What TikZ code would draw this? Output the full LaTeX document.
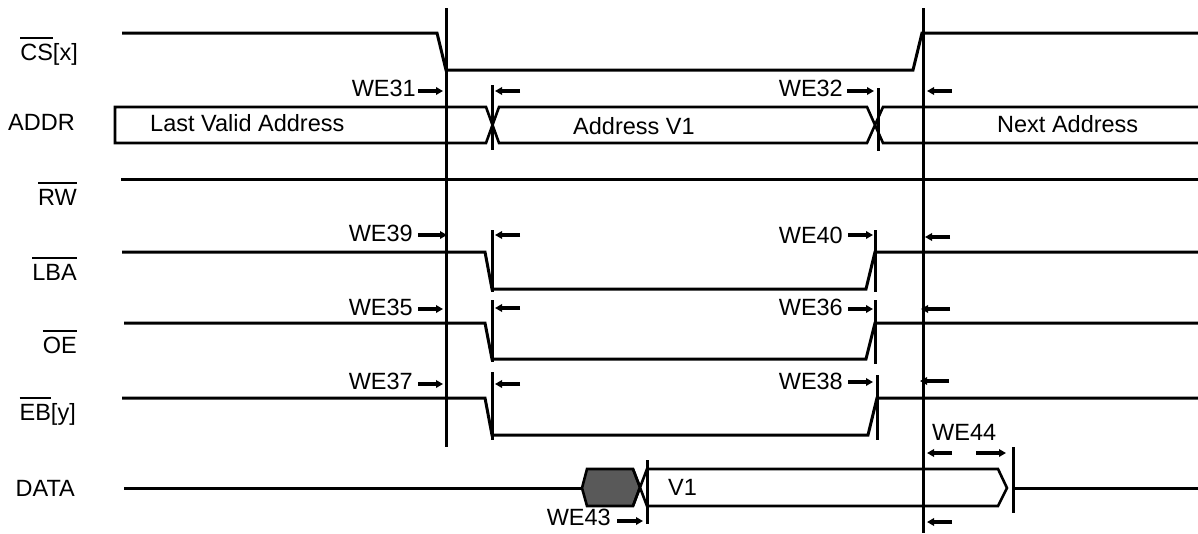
\documentclass[tikz,border=0pt]{standalone}
\usepackage{fontspec}
\setmainfont{Liberation Sans}
\usetikzlibrary{arrows.meta}
\newcommand\ovl[1]{\vbox{\hrule height 2pt\kern 5pt\hbox{#1}}}
\begin{document}
\begin{tikzpicture}[x=1pt,y=-1pt,
  sig/.style={line width=3pt, line join=miter},
  bus/.style={line width=2.6pt, line join=miter},
  guide/.style={line width=3pt},
  tick/.style={line width=3pt},
  arr/.style={line width=3.4pt, -{Triangle[length=7pt,width=7.5pt]}},
  lbl/.style={font=\fontsize{23.5}{27}\selectfont, inner sep=0pt},
]
\useasboundingbox (0,0) rectangle (1198,533);

% signal names
\node[lbl, anchor=base east] (ncs)   at (78,60)  {\ovl{CS}[x]};
\node[lbl, anchor=base east] (naddr) at (75,130) {ADDR};
\node[lbl, anchor=base east] (nrw)   at (77,205) {\ovl{RW}};
\node[lbl, anchor=base east] (nlba)  at (77,280) {\ovl{LBA}};
\node[lbl, anchor=base east] (noe)   at (77,353) {\ovl{OE}};
\node[lbl, anchor=base east] (neb)   at (76,420) {\ovl{EB}[y]};
\node[lbl, anchor=base east] (ndata) at (75,496) {DATA};

% guide lines
\draw[guide] (446,8) -- (446,447);
\draw[guide] (923,8) -- (923,533);

% CS
\draw[sig] (122,33) -- (437,33) -- (446,70) -- (913,70) -- (922,33) -- (1198,33);

% ADDR bus
\draw[bus] (1198,107) -- (883,107) -- (867,143) -- (499,143) -- (486,107) -- (115,107)
  -- (115,143) -- (486,143) -- (499,107) -- (867,107) -- (883,143) -- (1198,143);
\node[lbl, anchor=base west] (tlva) at (150,131) {Last Valid Address};
\node[lbl, anchor=base west] (tav1) at (573,134) {Address V1};
\node[lbl, anchor=base west] (tna)  at (997,132) {Next Address};

% RW
\draw[sig] (121,179) -- (1198,179);
% LBA
\draw[sig] (122,252) -- (485,252) -- (492,289) -- (866,289) -- (875,252) -- (1198,252);
% OE
\draw[sig] (124,323) -- (485,323) -- (492,359) -- (866,359) -- (875,323) -- (1198,323);
% EB
\draw[sig] (122,398) -- (485,398) -- (492,435) -- (868,435) -- (877,398) -- (1198,398);
% DATA
\draw[sig] (124,488) -- (582,488);
\draw[bus, fill=black!65] (582,488) -- (587,469) -- (633,469) -- (640,487) -- (633,506) -- (587,506) -- cycle;
\draw[bus] (633,469) -- (647,506) -- (998,506) -- (1007,488) -- (998,469) -- (647,469) -- (633,506);
\draw[sig] (1013,488) -- (1198,488);
\node[lbl, anchor=base west] (tv1) at (668,495) {V1};

% ticks
\draw[tick] (492,85) -- (492,150);
\draw[tick] (878,88) -- (878,151);
\draw[tick] (492,230) -- (492,292);
\draw[tick] (875,230) -- (875,292);
\draw[tick] (492,300) -- (492,362);
\draw[tick] (875,300) -- (875,364);
\draw[tick] (492,372) -- (492,440);
\draw[tick] (877,375) -- (877,440);
\draw[tick] (647,460) -- (647,524);
\draw[tick] (1013,447) -- (1013,513);

% timing labels
\node[lbl, anchor=base east] (we31) at (416,96)  {WE31};
\node[lbl, anchor=base east] (we32) at (843,96)  {WE32};
\node[lbl, anchor=base east] (we39) at (413,241) {WE39};
\node[lbl, anchor=base east] (we40) at (843,243) {WE40};
\node[lbl, anchor=base east] (we35) at (413,315) {WE35};
\node[lbl, anchor=base east] (we36) at (843,315) {WE36};
\node[lbl, anchor=base east] (we37) at (413,389) {WE37};
\node[lbl, anchor=base east] (we38) at (843,389) {WE38};
\node[lbl, anchor=base east] (we43) at (611,525) {WE43};
\node[lbl, anchor=base west] (we44) at (932,440) {WE44};

% timing arrows
\draw[arr] (418,91) -- (443,91);
\draw[arr] (520,91) -- (495,91);
\draw[arr] (847,91) -- (874,91);
\draw[arr] (952,91) -- (927,91);

\draw[arr] (418,235) -- (447,235);
\draw[arr] (520,235) -- (495,235);
\draw[arr] (848,235) -- (873,235);
\draw[arr] (950,237) -- (925,237);

\draw[arr] (418,309) -- (443,309);
\draw[arr] (520,308) -- (495,308);
\draw[arr] (848,309) -- (873,309);
\draw[arr] (950,309) -- (921,309);

\draw[arr] (418,384) -- (443,384);
\draw[arr] (520,384) -- (495,384);
\draw[arr] (848,382) -- (873,382);
\draw[arr] (949,381) -- (920,381);

\draw[arr] (617,521) -- (643,521);
\draw[arr] (952,453) -- (927,453);
\draw[arr] (976,453) -- (1006,453);
\draw[arr] (952,522) -- (927,522);
\end{tikzpicture}
\end{document}
